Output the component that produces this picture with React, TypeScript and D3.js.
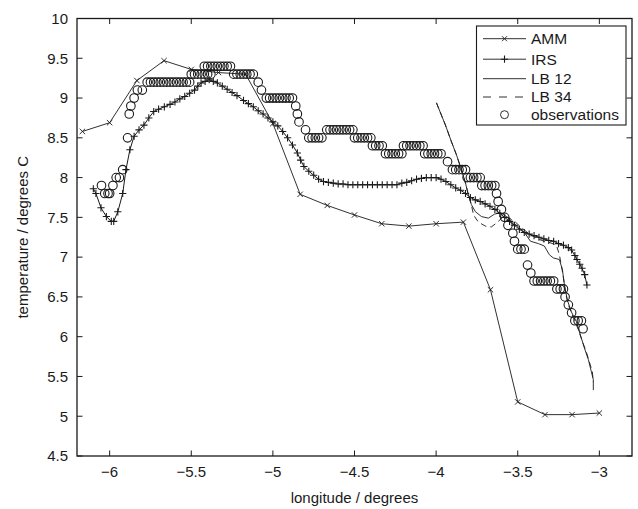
import React from "react";
import * as d3 from "d3";

const ammLon = [-6.167, -6.0, -5.833, -5.667, -5.5, -5.333, -5.167, -5.0, -4.833, -4.667, -4.5, -4.333, -4.167, -4.0, -3.833, -3.667, -3.5, -3.333, -3.167, -3.0];
const ammTemp = [8.58, 8.69, 9.22, 9.47, 9.36, 9.32, 9.3, 8.68, 7.79, 7.65, 7.53, 7.42, 7.39, 7.42, 7.44, 6.59, 5.18, 5.02, 5.02, 5.04];

const irsLon = [-6.1, -6.084, -6.053, -6.02, -5.99, -5.975, -5.95, -5.92, -5.9, -5.876, -5.85, -5.82, -5.79, -5.76, -5.73, -5.7, -5.665, -5.63, -5.6, -5.57, -5.54, -5.51, -5.48, -5.46, -5.44, -5.415, -5.39, -5.365, -5.34, -5.31, -5.28, -5.25, -5.22, -5.18, -5.15, -5.12, -5.09, -5.06, -5.03, -5.0, -4.97, -4.94, -4.91, -4.88, -4.85, -4.83, -4.81, -4.78, -4.75, -4.72, -4.69, -4.66, -4.63, -4.6, -4.57, -4.54, -4.51, -4.48, -4.45, -4.42, -4.39, -4.36, -4.33, -4.3, -4.27, -4.24, -4.21, -4.18, -4.15, -4.12, -4.09, -4.06, -4.03, -4.0, -3.97, -3.94, -3.91, -3.88, -3.85, -3.82, -3.79, -3.76, -3.73, -3.7, -3.67, -3.64, -3.61, -3.58, -3.55, -3.52, -3.49, -3.46, -3.43, -3.4, -3.37, -3.34, -3.31, -3.28, -3.25, -3.22, -3.19, -3.17, -3.15, -3.137, -3.12, -3.106, -3.09, -3.076];
const irsTemp = [7.86, 7.8, 7.62, 7.51, 7.45, 7.45, 7.57, 7.8, 8.1, 8.35, 8.52, 8.6, 8.66, 8.75, 8.83, 8.86, 8.89, 8.92, 8.95, 8.99, 9.02, 9.06, 9.1, 9.15, 9.19, 9.21, 9.23, 9.21, 9.19, 9.15, 9.11, 9.07, 9.03, 8.97, 8.93, 8.89, 8.84, 8.8, 8.75, 8.7, 8.65, 8.58, 8.5, 8.41, 8.31, 8.22, 8.14, 8.08, 8.03, 7.98, 7.95, 7.94, 7.93, 7.92, 7.92, 7.91, 7.91, 7.91, 7.91, 7.91, 7.91, 7.91, 7.91, 7.91, 7.91, 7.91, 7.93, 7.94, 7.96, 7.98, 7.99, 8.0, 8.0, 8.0, 7.98, 7.95, 7.91, 7.87, 7.84, 7.8, 7.75, 7.72, 7.7, 7.67, 7.64, 7.6, 7.55, 7.5, 7.45, 7.4, 7.35, 7.31, 7.29, 7.27, 7.25, 7.23, 7.21, 7.2, 7.17, 7.15, 7.12, 7.09, 7.02, 6.97, 6.91, 6.86, 6.78, 6.65];

const lb12Lon = [-3.998, -3.943, -3.906, -3.876, -3.845, -3.82, -3.802, -3.784, -3.759, -3.722, -3.68, -3.643, -3.606, -3.569, -3.533, -3.496, -3.459, -3.422, -3.373, -3.337, -3.306, -3.282, -3.245, -3.226, -3.214, -3.196, -3.171, -3.141, -3.116, -3.092, -3.067, -3.049, -3.037, -3.037];
const lb12Temp = [8.94, 8.66, 8.45, 8.29, 8.1, 7.93, 7.78, 7.66, 7.57, 7.51, 7.49, 7.54, 7.56, 7.51, 7.44, 7.38, 7.31, 7.2, 7.17, 7.14, 7.03, 6.99, 6.97, 6.84, 6.65, 6.46, 6.31, 6.19, 6.02, 5.86, 5.71, 5.56, 5.46, 5.33];

const lb34Lon = [-3.998, -3.943, -3.906, -3.876, -3.845, -3.82, -3.802, -3.784, -3.771, -3.741, -3.698, -3.661, -3.624, -3.588, -3.551, -3.514, -3.477, -3.441, -3.404, -3.355, -3.312, -3.263, -3.245, -3.233, -3.22, -3.208, -3.19, -3.159, -3.129, -3.104, -3.08, -3.061, -3.043, -3.037];
const lb34Temp = [8.94, 8.66, 8.45, 8.29, 8.1, 7.93, 7.78, 7.66, 7.53, 7.44, 7.39, 7.38, 7.44, 7.51, 7.49, 7.44, 7.37, 7.31, 7.26, 7.21, 7.19, 7.15, 7.03, 6.9, 6.74, 6.56, 6.4, 6.24, 6.09, 5.94, 5.81, 5.68, 5.56, 5.43];

const obsLon = [
  -6.05, -6.03, -6.01, -6.0, -5.98, -5.96, -5.94, -5.92, -5.89, -5.88, -5.87, -5.85, -5.83, -5.8,
  -5.77, -5.75, -5.73, -5.71, -5.69, -5.67, -5.65, -5.63, -5.61, -5.59, -5.57, -5.55, -5.53, -5.51,
  -5.5, -5.48, -5.46, -5.44, -5.42, -5.4, -5.38,
  -5.42, -5.4, -5.38, -5.36, -5.34, -5.32, -5.3, -5.28, -5.26,
  -5.24, -5.22, -5.2, -5.18, -5.16, -5.14, -5.12, -5.09, -5.07,
  -5.04, -5.02, -5.0, -4.98, -4.96, -4.94, -4.92, -4.9, -4.88,
  -4.86, -4.85, -4.84, -4.8,
  -4.78, -4.76, -4.74, -4.72, -4.7,
  -4.67, -4.65, -4.63, -4.61, -4.59, -4.57, -4.55, -4.53, -4.51,
  -4.5, -4.48, -4.46, -4.44, -4.42, -4.4,
  -4.39, -4.37, -4.35, -4.33,
  -4.31, -4.29, -4.27, -4.25, -4.23, -4.21,
  -4.2, -4.18, -4.16, -4.14, -4.12, -4.1, -4.08,
  -4.07, -4.05, -4.03, -4.01, -3.99, -3.97, -3.93,
  -3.9, -3.88, -3.86, -3.84, -3.82,
  -3.81, -3.79, -3.77, -3.75, -3.73,
  -3.72, -3.7, -3.68, -3.66, -3.64,
  -3.63, -3.62, -3.6, -3.58, -3.56, -3.53, -3.52,
  -3.5, -3.48, -3.46, -3.44, -3.42,
  -3.4, -3.38, -3.36, -3.34, -3.32, -3.3, -3.28,
  -3.26, -3.24, -3.22, -3.21, -3.19, -3.17,
  -3.15, -3.13, -3.11, -3.1,
];
const obsTemp = [
  7.9, 7.8, 7.8, 7.8, 7.9, 8.0, 8.0, 8.1, 8.5, 8.8, 8.9, 9.0, 9.1, 9.1,
  9.2, 9.2, 9.2, 9.2, 9.2, 9.2, 9.2, 9.2, 9.2, 9.2, 9.2, 9.2, 9.2, 9.2,
  9.3, 9.3, 9.3, 9.3, 9.3, 9.3, 9.3,
  9.4, 9.4, 9.4, 9.4, 9.4, 9.4, 9.4, 9.4, 9.4,
  9.3, 9.3, 9.3, 9.3, 9.3, 9.3, 9.3, 9.2, 9.1,
  9.0, 9.0, 9.0, 9.0, 9.0, 9.0, 9.0, 9.0, 9.0,
  8.9, 8.8, 8.7, 8.6,
  8.5, 8.5, 8.5, 8.5, 8.5,
  8.6, 8.6, 8.6, 8.6, 8.6, 8.6, 8.6, 8.6, 8.6,
  8.5, 8.5, 8.5, 8.5, 8.5, 8.5,
  8.4, 8.4, 8.4, 8.4,
  8.3, 8.3, 8.3, 8.3, 8.3, 8.3,
  8.4, 8.4, 8.4, 8.4, 8.4, 8.4, 8.4,
  8.3, 8.3, 8.3, 8.3, 8.3, 8.3, 8.2,
  8.1, 8.1, 8.1, 8.1, 8.1,
  8.0, 8.0, 8.0, 8.0, 8.0,
  7.9, 7.9, 7.9, 7.9, 7.9,
  7.8, 7.7, 7.6, 7.5, 7.4, 7.3, 7.2,
  7.1, 7.1, 7.1, 6.9, 6.8,
  6.7, 6.7, 6.7, 6.7, 6.7, 6.7, 6.7,
  6.6, 6.6, 6.6, 6.5, 6.4, 6.3,
  6.2, 6.2, 6.2, 6.1,
];

const xTicks = [-6, -5.5, -5, -4.5, -4, -3.5, -3];
const yTicks = [4.5, 5, 5.5, 6, 6.5, 7, 7.5, 8, 8.5, 9, 9.5, 10];
const legendLabels = ["AMM", "IRS", "LB 12", "LB 34", "observations"];

const W = 638, H = 509;
const L = 77, R = 632, T = 18.5, B = 456;
const FONT = "Liberation Sans, Arial, Helvetica, sans-serif";
const INK = "#1a1a1a";

export default function App() {
  const x = d3.scaleLinear().domain([-6.2, -2.8]).range([L, R]);
  const y = d3.scaleLinear().domain([4.5, 10]).range([B, T]);
  const zip = (a: number[], b: number[]) => a.map((v, i) => [v, b[i]] as [number, number]);
  const line = d3.line<[number, number]>().x((d) => x(d[0])).y((d) => y(d[1]));

  const amm = zip(ammLon, ammTemp);
  const irs = zip(irsLon, irsTemp);
  const lb12 = zip(lb12Lon, lb12Temp);
  const lb34 = zip(lb34Lon, lb34Temp);
  const obs = zip(obsLon, obsTemp);

  const xMark = (cx: number, cy: number, s: number, key: any) => (
    <path key={key} d={`M${cx - s},${cy - s}L${cx + s},${cy + s}M${cx - s},${cy + s}L${cx + s},${cy - s}`} stroke={INK} strokeWidth={0.9} fill="none" />
  );
  const plusMark = (cx: number, cy: number, s: number, key: any) => (
    <path key={key} d={`M${cx - s},${cy}L${cx + s},${cy}M${cx},${cy - s}L${cx},${cy + s}`} stroke={INK} strokeWidth={1.1} fill="none" />
  );

  const legX0 = 476.5, legY0 = 26, legX1 = 626, legY1 = 125;
  const legRows = [38.7, 59.2, 78.7, 97, 114.7];

  return (
    <svg width={W} height={H} style={{ position: "absolute", left: 0, top: 0, background: "#fff" }} fontFamily={FONT}>
      <rect x={0} y={0} width={W} height={H} fill="#fff" />
      <defs>
        <clipPath id="plotclip">
          <rect x={L} y={T} width={R - L} height={B - T} />
        </clipPath>
      </defs>
      {xTicks.map((t) => (
        <g key={"xt" + t}>
          <line x1={x(t)} x2={x(t)} y1={B} y2={B - 5.5} stroke={INK} strokeWidth={1} />
          <line x1={x(t)} x2={x(t)} y1={T} y2={T + 5.5} stroke={INK} strokeWidth={1} />
          <text x={x(t)} y={477} textAnchor="middle" fontSize={15} fill={INK}>
            {t < 0 ? "\u2212" + Math.abs(t) : String(t)}
          </text>
        </g>
      ))}
      {yTicks.map((t) => (
        <g key={"yt" + t}>
          <line x1={L} x2={L + 5.5} y1={y(t)} y2={y(t)} stroke={INK} strokeWidth={1} />
          <line x1={R} x2={R - 5.5} y1={y(t)} y2={y(t)} stroke={INK} strokeWidth={1} />
          <text x={68} y={y(t) + 5.3} textAnchor="end" fontSize={15} fill={INK}>
            {String(t)}
          </text>
        </g>
      ))}
      <g clipPath="url(#plotclip)">
        <path d={line(amm) || ""} fill="none" stroke={INK} strokeWidth={0.9} />
        {amm.map((d, i) => xMark(x(d[0]), y(d[1]), 2.7, "a" + i))}
        <path d={line(irs) || ""} fill="none" stroke={INK} strokeWidth={1} />
        {irs.map((d, i) => plusMark(x(d[0]), y(d[1]), 3.6, "p" + i))}
        <path d={line(lb12) || ""} fill="none" stroke={INK} strokeWidth={0.9} />
        <path d={line(lb34) || ""} fill="none" stroke={INK} strokeWidth={0.9} strokeDasharray="6,4" />
        {obs.map((d, i) => (
          <circle key={"o" + i} cx={x(d[0])} cy={y(d[1])} r={4.3} fill="none" stroke={INK} strokeWidth={1.1} />
        ))}
      </g>
      <rect x={L} y={T} width={R - L} height={B - T} fill="none" stroke={INK} strokeWidth={1.3} />
      <rect x={legX0} y={legY0} width={legX1 - legX0} height={legY1 - legY0} fill="#fff" stroke={INK} strokeWidth={1.1} />
      {legendLabels.map((lab, i) => {
        const cy = legRows[i];
        const cx = 504.5;
        return (
          <g key={"lg" + i}>
            {i < 4 && (
              <line x1={483} x2={526} y1={cy} y2={cy} stroke={INK} strokeWidth={0.9} strokeDasharray={i === 3 ? "8,8" : undefined} />
            )}
            {i === 0 && xMark(cx, cy, 2.5, "lx")}
            {i === 1 && plusMark(cx, cy, 3.6, "lp")}
            {i === 4 && <circle cx={cx} cy={cy} r={4} fill="none" stroke={INK} strokeWidth={0.9} />}
            <text x={531} y={cy + 5.4} fontSize={15.5} fill={INK}>
              {lab}
            </text>
          </g>
        );
      })}
      <text x={(L + R) / 2} y={503} textAnchor="middle" fontSize={15} fill={INK}>
        longitude / degrees
      </text>
      <text transform={`translate(27.5, ${(T + B) / 2}) rotate(-90)`} textAnchor="middle" fontSize={15} fill={INK}>
        temperature / degrees C
      </text>
    </svg>
  );
}
